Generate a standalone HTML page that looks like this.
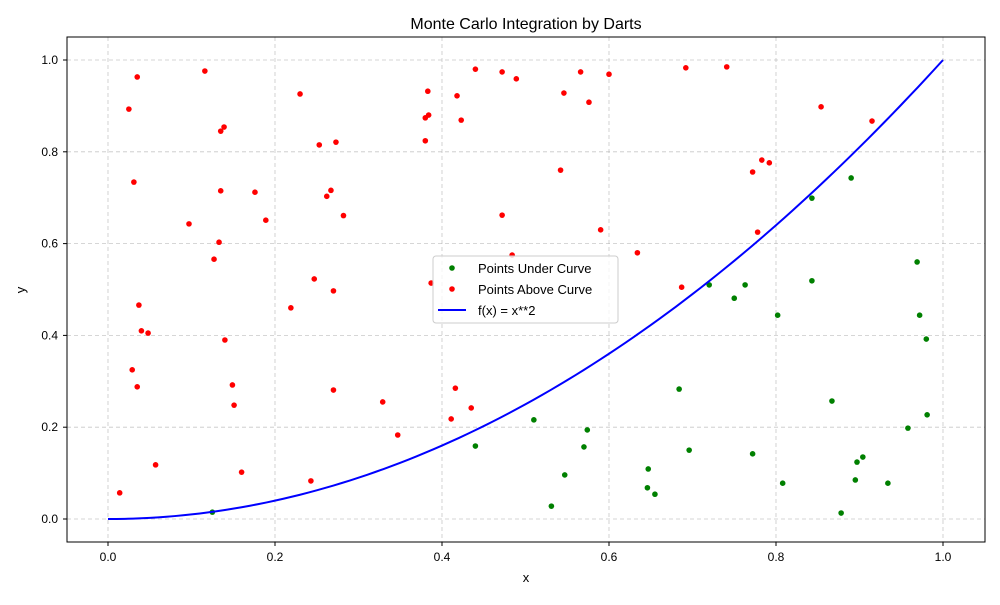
<!DOCTYPE html>
<html><head><meta charset="utf-8"><style>
body{margin:0;background:#fff;}
svg text{font-family:"Liberation Sans","DejaVu Sans",sans-serif;fill:#000;}
</style></head><body>
<svg id="chart" width="1000" height="600" xmlns="http://www.w3.org/2000/svg">
<rect width="1000" height="600" fill="#fff"/>
<g id="grid"></g>
<g id="marks"></g>
<rect x="67" y="37" width="918" height="505" fill="none" stroke="#000" stroke-width="1"/>
<g id="ticks"></g>
<text x="526" y="29" font-size="16" text-anchor="middle">Monte Carlo Integration by Darts</text>
<text x="526" y="582" font-size="13" text-anchor="middle">x</text>
<text x="25" y="290" font-size="13" text-anchor="middle" transform="rotate(-90 25 290)">y</text>
<g>
<rect x="433" y="256" width="185" height="67" rx="3" fill="#fff" fill-opacity="0.8" stroke="#ccc"/>
<circle cx="452" cy="268" r="2.8" fill="green"/>
<text x="478" y="273" font-size="13">Points Under Curve</text>
<circle cx="452" cy="289" r="2.8" fill="red"/>
<text x="478" y="294" font-size="13">Points Above Curve</text>
<line x1="438" y1="310" x2="466" y2="310" stroke="blue" stroke-width="2"/>
<text x="478" y="315" font-size="13">f(x) = x**2</text>
</g>
</svg>
<script>
const xTicks=[0,0.2,0.4,0.6,0.8,1.0];
const yTicks=[0,0.2,0.4,0.6,0.8,1.0];
const redX=[0.014,0.035,0.025,0.031,0.037,0.040,0.048,0.035,0.029,0.057,0.116,0.097,0.135,0.139,0.135,0.133,0.127,0.140,0.149,0.151,0.160,0.176,0.189,0.230,0.253,0.273,0.267,0.262,0.282,0.219,0.247,0.270,0.243,0.270,0.329,0.347,0.380,0.383,0.384,0.380,0.423,0.418,0.440,0.387,0.416,0.411,0.435,0.472,0.489,0.472,0.484,0.542,0.546,0.566,0.576,0.590,0.600,0.634,0.687,0.692,0.741,0.772,0.783,0.792,0.778,0.854,0.915];
const redY=[0.057,0.963,0.893,0.734,0.466,0.410,0.405,0.288,0.325,0.118,0.976,0.643,0.845,0.854,0.715,0.603,0.566,0.390,0.292,0.248,0.102,0.712,0.651,0.926,0.815,0.821,0.716,0.703,0.661,0.460,0.523,0.497,0.083,0.281,0.255,0.183,0.874,0.932,0.880,0.824,0.869,0.922,0.980,0.514,0.285,0.218,0.242,0.974,0.959,0.662,0.575,0.760,0.928,0.974,0.908,0.630,0.969,0.580,0.505,0.983,0.985,0.756,0.782,0.776,0.625,0.898,0.867];
const greenX=[0.125,0.440,0.510,0.531,0.547,0.570,0.574,0.646,0.647,0.655,0.684,0.696,0.720,0.750,0.763,0.772,0.802,0.808,0.843,0.843,0.867,0.878,0.890,0.895,0.897,0.904,0.934,0.958,0.969,0.972,0.980,0.981];
const greenY=[0.015,0.159,0.216,0.028,0.096,0.157,0.194,0.068,0.109,0.054,0.283,0.150,0.510,0.481,0.510,0.142,0.444,0.078,0.699,0.519,0.257,0.013,0.743,0.085,0.124,0.135,0.078,0.198,0.560,0.444,0.392,0.227];
const NS="http://www.w3.org/2000/svg";
const sx=v=>108+v*835, sy=v=>519-v*459;
function mk(tag,attrs,parent){const e=document.createElementNS(NS,tag);for(const k in attrs)e.setAttribute(k,attrs[k]);parent.appendChild(e);return e;}
const grid=document.getElementById('grid'),ticks=document.getElementById('ticks'),marks=document.getElementById('marks');
xTicks.forEach(t=>{
  const g=mk('line',{x1:sx(t),x2:sx(t),y1:37,y2:542,stroke:'#b0b0b0','stroke-width':0.8,'stroke-dasharray':'4,3','stroke-opacity':0.7},grid);
  
  
  const l=mk('line',{x1:sx(t),x2:sx(t),y1:542,y2:546,stroke:'#000'},ticks);
  
  
  const tx=mk('text',{x:sx(t),y:561,'font-size':12,'text-anchor':'middle'},ticks);tx.textContent=t.toFixed(1);
  
  
});
yTicks.forEach(t=>{
  const g=mk('line',{x1:67,x2:985,y1:sy(t),y2:sy(t),stroke:'#b0b0b0','stroke-width':0.8,'stroke-dasharray':'4,3','stroke-opacity':0.7},grid);
  
  
  const l=mk('line',{x1:63,x2:67,y1:sy(t),y2:sy(t),stroke:'#000'},ticks);
  
  
  const tx=mk('text',{x:58,y:sy(t)+4,'font-size':12,'text-anchor':'end'},ticks);tx.textContent=t.toFixed(1);
  
  
});
greenX.forEach((x,i)=>{
  const c=mk('circle',{cx:sx(x),cy:sy(greenY[i]),r:2.8,fill:'green'},marks);
  
  
});
redX.forEach((x,i)=>{
  const c=mk('circle',{cx:sx(x),cy:sy(redY[i]),r:2.8,fill:'red'},marks);
  
  
});
let d='';for(let i=0;i<=100;i++){const x=i/100;d+=(i?'L':'M')+sx(x).toFixed(2)+','+sy(x*x).toFixed(2);}
const p=mk('path',{d:d,fill:'none',stroke:'blue','stroke-width':2},marks);


</script>
</body></html>
